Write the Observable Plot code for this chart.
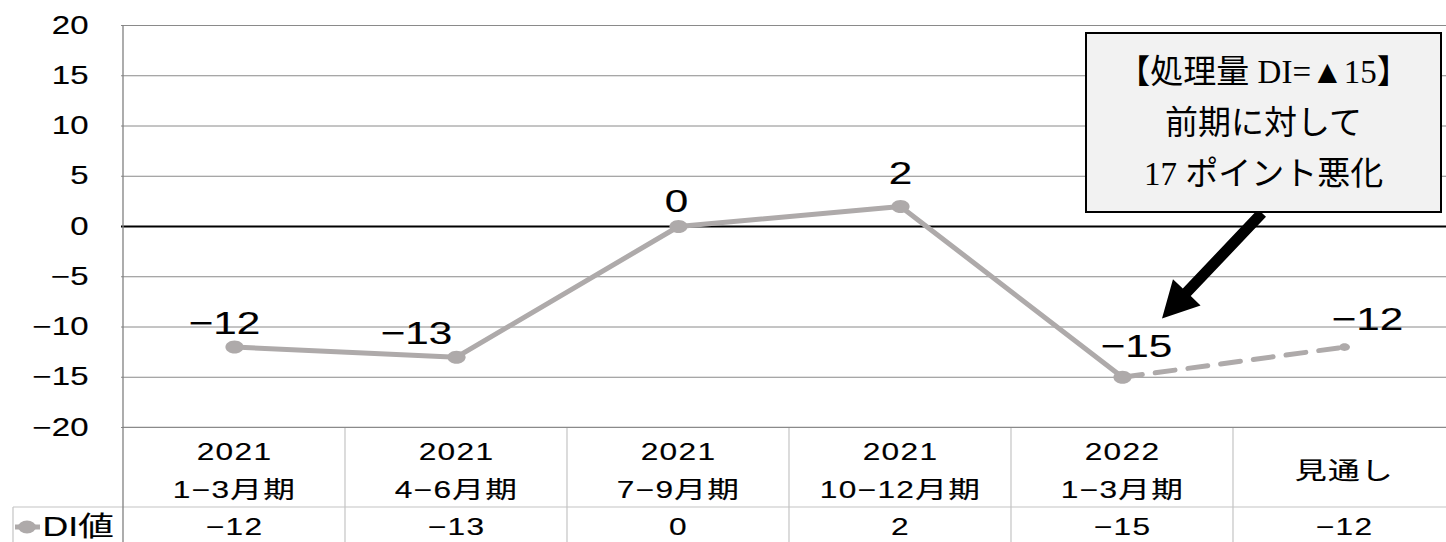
<!DOCTYPE html>
<html>
<head>
<meta charset="utf-8">
<script src="https://cdn.jsdelivr.net/npm/d3@7"></script>
<script src="https://cdn.jsdelivr.net/npm/@observablehq/plot@0.6"></script>
<style>
  body { margin: 0; background: #fff; }
  #wrap { position: relative; width: 1446px; height: 542px; overflow: hidden; }
  #wrap svg { position: absolute; left: 0; top: 0; }
  #wrap svg text { stroke: #000; stroke-width: 0.15px; }
  g[font-size="24"] text { letter-spacing: 1px; }
  .callout {
    position: absolute; left: 1085px; top: 32px; width: 357px; height: 181px;
    box-sizing: border-box; background: #f2f2f2; border: 2.5px solid #000;
    font-family: "Liberation Serif", "Noto Sans CJK JP", serif; font-size: 33px;
    text-align: center; line-height: 51px; padding-top: 13px; color: #000;
    white-space: nowrap;
  }
</style>
</head>
<body>
<div id="wrap"></div>
<script>
(() => {
// Survey periods (last one is the outlook), DI values, and axis ticks
const periods = ["2021\n1−3月期", "2021\n4−6月期", "2021\n7−9月期", "2021\n10−12月期", "2022\n1−3月期", "見通し"];
const diValues = [-12, -13, 0, 2, -15, -12];
const isOutlook = [false, false, false, false, false, true];
const yTicks = [-20, -15, -10, -5, 0, 5, 10, 15, 20];
const seriesName = "DI値";
const calloutLines = ["【処理量 DI=▲15】", "前期に対して", "17 ポイント悪化"];

const rows = periods.map((p, i) => ({period: p, value: diValues[i], outlook: isOutlook[i]}));
const actual = rows.filter(d => !d.outlook);
const lastActual = actual[actual.length - 1];
const outlookLeg = [lastActual, ...rows.filter(d => d.outlook)];

const fmt = v => (v < 0 ? "−" + Math.abs(v) : String(v));

const lineColor = "#aeaaaa";
const textFont = "'Liberation Sans', 'Noto Sans CJK JP', sans-serif";
const textStretch = 1.32; // wide lettering used throughout the chart

// flattened marker, wider than tall
const ellipse = {
  draw(ctx, size) {
    const r = Math.sqrt(size / Math.PI), rx = r * 1.3, ry = r * 0.93, k = 0.5523;
    ctx.moveTo(rx, 0);
    ctx.bezierCurveTo(rx, ry * k, rx * k, ry, 0, ry);
    ctx.bezierCurveTo(-rx * k, ry, -rx, ry * k, -rx, 0);
    ctx.bezierCurveTo(-rx, -ry * k, -rx * k, -ry, 0, -ry);
    ctx.bezierCurveTo(rx * k, -ry, rx, -ry * k, rx, 0);
    ctx.closePath();
  }
};

// data-label offsets per period
const nudges = [[-10, -23], [-40, -23], [-2, -25], [0, -33], [14, -30], [23, -27]];

const chart = Plot.plot({
  width: 1446,
  height: 542,
  marginLeft: 121,
  marginRight: 0,
  marginTop: 25,
  marginBottom: 115,
  style: {fontFamily: textFont, fontSize: "25px", color: "#000", background: "transparent"},
  x: {type: "point", domain: periods, range: [121, 1456], padding: 0.5, axis: null},
  y: {domain: [-20, 20], ticks: yTicks, tickSize: 0, tickPadding: 33, tickFormat: fmt, label: null},
  marks: [
    Plot.ruleY(yTicks.filter(t => t !== 0), {stroke: "#8a8a8a", strokeWidth: 1}),
    Plot.ruleY([0], {stroke: "#000", strokeWidth: 2}),
    Plot.line(actual, {x: "period", y: "value", stroke: lineColor, strokeWidth: 5}),
    Plot.line(outlookLeg, {x: "period", y: "value", stroke: lineColor, strokeWidth: 5, strokeDasharray: "20,13"}),
    Plot.dot(actual, {x: "period", y: "value", r: 7, fill: lineColor, symbol: ellipse}),
    Plot.dot(rows.filter(d => d.outlook), {x: "period", y: "value", r: 4.2, fill: lineColor, symbol: ellipse}),
    ...rows.map((d, i) => Plot.text([d], {
      x: "period", y: "value", text: v => fmt(v.value),
      dx: nudges[i][0], dy: nudges[i][1], fontSize: 32, fill: "#000"
    })),
    // data table: period headers and values
    Plot.text(rows, {x: "period", text: "period", frameAnchor: "bottom", dy: 39, lineAnchor: "middle", lineHeight: 1.6, fontSize: 24, fill: "#000"}),
    Plot.text(rows, {x: "period", text: d => fmt(d.value), frameAnchor: "bottom", dy: 100, lineAnchor: "middle", fontSize: 24, fill: "#000"}),
    Plot.text([seriesName], {frameAnchor: "bottom-left", dx: -79, dy: 100, lineAnchor: "middle", textAnchor: "start", fontSize: 27, fill: "#000"})
  ]
});

const wrap = document.getElementById("wrap");
wrap.appendChild(chart);

// widen every label horizontally about its own anchor point
chart.querySelectorAll("text").forEach(el => {
  const t = el.getAttribute("transform") || "";
  const x = parseFloat(el.getAttribute("x")) || 0;
  el.setAttribute("transform", `${t} translate(${x},0) scale(${textStretch},1) translate(${-x},0)`);
});

// scale helpers
const sx = chart.scale("x"), sy = chart.scale("y");
const X = sx.apply ? (v => sx.apply(v)) : d3.scalePoint(sx.domain, sx.range).padding(sx.padding);
const Y = sy.apply ? (v => sy.apply(v)) : d3.scaleLinear(sy.domain, sy.range);

const svg = d3.select(chart);
const step = X(periods[1]) - X(periods[0]);
const plotLeft = X(periods[0]) - step / 2;
const plotTop = Y(20), plotBottom = Y(-20);
const rowSplit = plotBottom + 80;
const H = 542, W = 1446;

const grid = svg.insert("g", ":first-child").attr("stroke", "#c4c4c4").attr("stroke-width", 1.2);
grid.append("line").attr("x1", plotLeft).attr("x2", W).attr("y1", plotBottom).attr("y2", plotBottom);
grid.append("line").attr("x1", 13).attr("x2", W).attr("y1", rowSplit).attr("y2", rowSplit);
grid.append("line").attr("x1", 13).attr("x2", 13).attr("y1", rowSplit).attr("y2", H);
periods.slice(1).forEach(p => {
  const bx = X(p) - step / 2;
  grid.append("line").attr("x1", bx).attr("x2", bx).attr("y1", plotBottom).attr("y2", H);
});
svg.append("line").attr("x1", plotLeft).attr("x2", plotLeft).attr("y1", plotTop).attr("y2", H)
  .attr("stroke", "#808080").attr("stroke-width", 1.3);

// legend swatch in the table row
const legY = rowSplit + 20;
svg.append("line").attr("x1", 15).attr("x2", 40).attr("y1", legY).attr("y2", legY)
  .attr("stroke", lineColor).attr("stroke-width", 5);
svg.append("ellipse").attr("cx", 27).attr("cy", legY).attr("rx", 9).attr("ry", 6.5).attr("fill", lineColor);

// callout arrow pointing at the latest quarter
const tail = [1262, 213];
const tip = [X(periods[4]) + 40, Y(-9.2)];
const ux = tip[0] - tail[0], uy = tip[1] - tail[1], len = Math.hypot(ux, uy);
const u = [ux / len, uy / len], n = [-u[1], u[0]];
const headLen = 36, headHalf = 19, shaftHalf = 5.5;
const base = [tip[0] - u[0] * headLen, tip[1] - u[1] * headLen];
const pt = (p, s) => [p[0] + n[0] * s, p[1] + n[1] * s];
const poly = [pt(tail, shaftHalf), pt(base, shaftHalf), pt(base, headHalf), tip,
              pt(base, -headHalf), pt(base, -shaftHalf), pt(tail, -shaftHalf)];
svg.append("polygon").attr("points", poly.map(p => p.join(",")).join(" ")).attr("fill", "#000");

const box = document.createElement("div");
box.className = "callout";
box.innerHTML = calloutLines.map(t => `<div>${t}</div>`).join("");
wrap.appendChild(box);
})();
</script>
</body>
</html>
